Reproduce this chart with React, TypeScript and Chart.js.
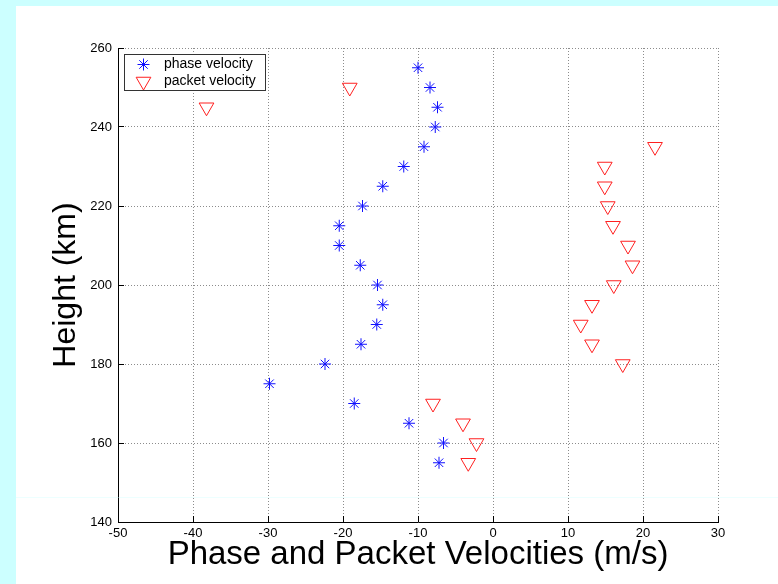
import React, { useEffect, useRef } from 'react';
import { Chart, registerables } from 'chart.js';
import { drawPoint } from 'chart.js/helpers';

Chart.register(...registerables);

// Sounding heights (km) and the measured velocities (m/s) at each of them
const phaseHeights = [155, 160, 165, 170, 175, 180, 185, 190, 195, 200, 205, 210, 215, 220, 225, 230, 235, 240, 245, 250, 255];
const phaseVelocity = [-7.2, -6.6, -11.2, -18.5, -29.8, -22.4, -17.6, -15.5, -14.7, -15.4, -17.7, -20.5, -20.5, -17.4, -14.7, -11.9, -9.2, -7.7, -7.4, -8.4, -10.0];

const packetHeights = [155, 160, 165, 170, 180, 185, 190, 195, 200, 205, 210, 215, 220, 225, 230, 235, 245, 250];
const packetVelocity = [-3.3, -2.2, -4.0, -8.0, 17.3, 13.2, 11.7, 13.2, 16.1, 18.6, 18.0, 16.0, 15.3, 14.9, 14.9, 21.6, -38.2, -19.1];

const seriesLabels = ['phase velocity', 'packet velocity'];

// Axis ranges and tick spacing
const xRange = [-50, 30];
const xStep = 10;
const yRange = [140, 260];
const yStep = 20;

const xTitle = 'Phase and Packet Velocities (m/s)';
const yTitle = 'Height (km)';

const FONT = '"Liberation Sans", Arial, Helvetica, sans-serif';
const PHASE_COLOR = '#1010ff';
const PACKET_COLOR = '#ff2020';

const phaseStyle = { pointStyle: 'star', radius: 6, rotation: 0, borderWidth: 1 };
const packetStyle = { pointStyle: 'triangle', radius: 8.5, rotation: 180, borderWidth: 1 };

const align = (p: number) => Math.round(p - 0.5) + 0.5;

// Short tick marks pointing into the plot, as on the original axes
const inwardTicks = {
  id: 'inwardTicks',
  afterDatasetsDraw(chart: any) {
    const { ctx, chartArea, scales } = chart;
    ctx.save();
    ctx.strokeStyle = '#000';
    ctx.lineWidth = 1;
    ctx.setLineDash([]);
    ctx.beginPath();
    scales.x.ticks.forEach((t: any) => {
      const px = align(scales.x.getPixelForValue(t.value));
      ctx.moveTo(px, chartArea.bottom);
      ctx.lineTo(px, chartArea.bottom - 6);
    });
    scales.y.ticks.forEach((t: any) => {
      const py = align(scales.y.getPixelForValue(t.value));
      ctx.moveTo(chartArea.left, py);
      ctx.lineTo(chartArea.left + 6, py);
    });
    ctx.stroke();
    ctx.restore();
  },
};

// Boxed legend in the upper-left corner of the plot
const boxedLegend = {
  id: 'boxedLegend',
  afterDraw(chart: any) {
    const { ctx, chartArea } = chart;
    const bx = chartArea.left + 6;
    const by = chartArea.top + 6;
    const bw = 142;
    const bh = 37;
    ctx.save();
    ctx.fillStyle = '#fff';
    ctx.fillRect(bx, by, bw, bh);
    ctx.strokeStyle = '#333';
    ctx.lineWidth = 1;
    ctx.strokeRect(bx + 0.5, by + 0.5, bw - 1, bh - 1);

    const rows = [
      { label: seriesLabels[0], style: phaseStyle, color: PHASE_COLOR, y: by + 10.5 },
      { label: seriesLabels[1], style: packetStyle, color: PACKET_COLOR, y: by + 27.5 },
    ];
    rows.forEach((r) => {
      ctx.strokeStyle = r.color;
      ctx.fillStyle = 'rgba(0,0,0,0)';
      ctx.lineWidth = 1;
      drawPoint(ctx, r.style as any, bx + 19.5, r.y);
      ctx.fillStyle = '#000';
      ctx.font = `14px ${FONT}`;
      ctx.textBaseline = 'middle';
      ctx.textAlign = 'left';
      ctx.fillText(r.label, bx + 40, r.y);
    });
    ctx.restore();
  },
};

export default function App() {
  const canvasRef = useRef<HTMLCanvasElement | null>(null);

  useEffect(() => {
    if (!canvasRef.current) return;
    const chart = new Chart(canvasRef.current, {
      type: 'scatter',
      data: {
        datasets: [
          {
            label: seriesLabels[0],
            data: phaseHeights.map((h, i) => ({ x: phaseVelocity[i], y: h })),
            pointStyle: 'star',
            pointRadius: phaseStyle.radius,
            pointBorderWidth: 1,
            pointBorderColor: PHASE_COLOR,
            pointBackgroundColor: 'rgba(0,0,0,0)',
            showLine: false,
          },
          {
            label: seriesLabels[1],
            data: packetHeights.map((h, i) => ({ x: packetVelocity[i], y: h })),
            pointStyle: 'triangle',
            pointRotation: 180,
            pointRadius: packetStyle.radius,
            pointBorderWidth: 1,
            pointBorderColor: PACKET_COLOR,
            pointBackgroundColor: 'rgba(0,0,0,0)',
            showLine: false,
          },
        ],
      },
      options: {
        responsive: false,
        animation: false,
        devicePixelRatio: 1,
        events: [],
        layout: { padding: { left: 0, top: 48, right: 60, bottom: 0 } },
        plugins: {
          legend: { display: false },
          tooltip: { enabled: false },
        },
        scales: {
          x: {
            type: 'linear',
            min: xRange[0],
            max: xRange[1],
            ticks: {
              stepSize: xStep,
              color: '#000',
              padding: 4,
              font: { family: FONT, size: 13 },
            },
            grid: { color: '#8c8c8c', lineWidth: 1, drawTicks: false },
            border: { display: true, color: '#000', width: 1, dash: [1, 2] },
            title: {
              display: true,
              text: xTitle,
              color: '#000',
              font: { family: FONT, size: 33 },
              padding: { top: 0, bottom: 9 },
            },
            afterFit(scale: any) {
              scale.height = 62;
            },
          },
          y: {
            type: 'linear',
            min: yRange[0],
            max: yRange[1],
            ticks: {
              stepSize: yStep,
              color: '#000',
              padding: 6,
              font: { family: FONT, size: 13 },
            },
            grid: { color: '#8c8c8c', lineWidth: 1, drawTicks: false },
            border: { display: true, color: '#000', width: 1, dash: [1, 2] },
            title: {
              display: true,
              text: yTitle,
              color: '#000',
              font: { family: FONT, size: 32 },
              padding: { top: 47, bottom: 0 },
            },
            afterFit(scale: any) {
              scale.width = 118;
            },
          },
        },
      } as any,
      plugins: [inwardTicks, boxedLegend],
    });
    return () => chart.destroy();
  }, []);

  return (
    <div
      style={{
        position: 'fixed',
        left: 0,
        top: 0,
        width: 778,
        height: 584,
        background: '#ccffff',
        overflow: 'hidden',
      }}
    >
      <div
        style={{
          position: 'absolute',
          left: 16,
          top: 6,
          right: 0,
          bottom: 0,
          background: '#ffffff',
        }}
      />
      <canvas
        ref={canvasRef}
        width={778}
        height={584}
        style={{ position: 'absolute', left: 0, top: 0, width: 778, height: 584 }}
      />
      <div
        style={{
          position: 'absolute',
          left: 16,
          top: 497,
          right: 0,
          height: 1,
          background: 'rgba(204,255,255,0.35)',
          pointerEvents: 'none',
        }}
      />
    </div>
  );
}
